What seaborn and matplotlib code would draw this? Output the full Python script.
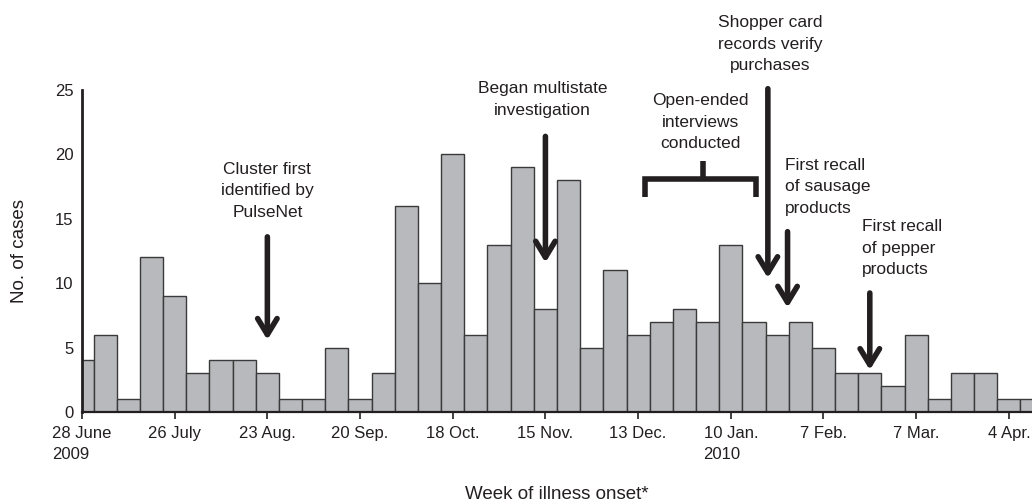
import matplotlib
matplotlib.use("Agg")
import matplotlib.pyplot as plt
import seaborn as sns
import numpy as np
import pandas as pd

# ---- data ----
week_index = list(range(42))
cases = [4, 6, 1, 12, 9, 3, 4, 4, 3, 1, 1, 5, 1, 3, 16, 10, 20, 6, 13, 19,
         8, 18, 5, 11, 6, 7, 8, 7, 13, 7, 6, 7, 5, 3, 3, 2, 6, 1, 3, 3, 1, 1]
tick_weeks = [0, 4, 8, 12, 16, 20, 24, 28, 32, 36, 40]
tick_labels = ["28 June\n2009", "26 July", "23 Aug.", "20 Sep.", "18 Oct.",
               "15 Nov.", "13 Dec.", "10 Jan.\n2010", "7 Feb.", "7 Mar.", "4 Apr."]
y_ticks = [0, 5, 10, 15, 20, 25]

sns.set_theme(style="white")
plt.rcParams["font.family"] = ["Liberation Sans", "DejaVu Sans"]
TXT = "#231f20"

df = pd.DataFrame({"week": week_index, "cases": cases})

fig = plt.figure(figsize=(10.32, 5.04), dpi=100)
ax = fig.add_axes([82 / 1032, 92 / 504, 950 / 1032, 322 / 504])

sns.barplot(data=df, x="week", y="cases", color="#b8b9bd", saturation=1,
            width=1.0, edgecolor="#3a3a3a", linewidth=1.0, ax=ax)

ax.set_xlim(0, 41)
ax.set_ylim(0, 25)
ax.set_xticks(tick_weeks)
ax.set_xticklabels(tick_labels, fontsize=12, color=TXT, multialignment="left",
                   linespacing=1.5)
ax.set_yticks(y_ticks)
ax.set_yticklabels([str(v) for v in y_ticks], fontsize=12, color=TXT)
ax.tick_params(axis="x", direction="out", length=5, width=1.2, color=TXT, pad=5, bottom=True)
ax.tick_params(axis="y", length=0, pad=6)

for s in ["top", "right"]:
    ax.spines[s].set_visible(False)
ax.spines["left"].set_linewidth(2.0)
ax.spines["left"].set_color(TXT)
ax.spines["bottom"].set_linewidth(1.6)
ax.spines["bottom"].set_color(TXT)

ax.set_xlabel("Week of illness onset*", fontsize=13.5, color=TXT)
ax.set_ylabel("No. of cases", fontsize=13.5, color=TXT)
ax.xaxis.set_label_coords(0.5, -0.23)
ax.yaxis.set_label_coords(-0.057, 0.5)

arrow_kw = dict(arrowstyle="->,head_length=1.15,head_width=0.7", lw=4,
                color=TXT, shrinkA=0, shrinkB=0, mutation_scale=10)

def arrow(x, y_top, y_tip):
    ax.annotate("", xy=(x, y_tip), xytext=(x, y_top), arrowprops=arrow_kw,
                annotation_clip=False)

fs = 12.5
ls = 1.55
# Cluster first identified by PulseNet
ax.text(8, 17.16, "Cluster first\nidentified by\nPulseNet", ha="center", va="center",
        fontsize=fs, color=TXT, linespacing=ls)
arrow(8, 13.6, 5.6)
# Began multistate investigation
ax.text(19.87, 24.26, "Began multistate\ninvestigation", ha="center", va="center",
        fontsize=fs, color=TXT, linespacing=ls, clip_on=False)
arrow(20, 21.4, 11.6)
# Open-ended interviews conducted
ax.text(26.7, 22.5, "Open-ended\ninterviews\nconducted", ha="center", va="center",
        fontsize=fs, color=TXT, linespacing=ls)
ax.plot([24.3, 24.3, 29.07, 29.07], [16.7, 18.06, 18.06, 16.7], color=TXT, lw=4,
        solid_joinstyle="miter", solid_capstyle="butt", clip_on=False)
ax.plot([26.78, 26.78], [18.06, 19.46], color=TXT, lw=4, solid_capstyle="butt", clip_on=False)
# Shopper card records verify purchases
ax.text(29.72, 28.57, "Shopper card\nrecords verify\npurchases", ha="center", va="center",
        fontsize=fs, color=TXT, linespacing=ls, clip_on=False)
arrow(29.6, 25.1, 10.4)
# First recall of sausage products
ax.text(30.32, 17.47, "First recall\nof sausage\nproducts", ha="left", va="center",
        fontsize=fs, color=TXT, linespacing=ls)
arrow(30.45, 14.0, 8.1)
# First recall of pepper products
ax.text(33.65, 12.73, "First recall\nof pepper\nproducts", ha="left", va="center",
        fontsize=fs, color=TXT, linespacing=ls)
arrow(34, 9.24, 3.26)

fig.savefig("out.png", dpi=100)
